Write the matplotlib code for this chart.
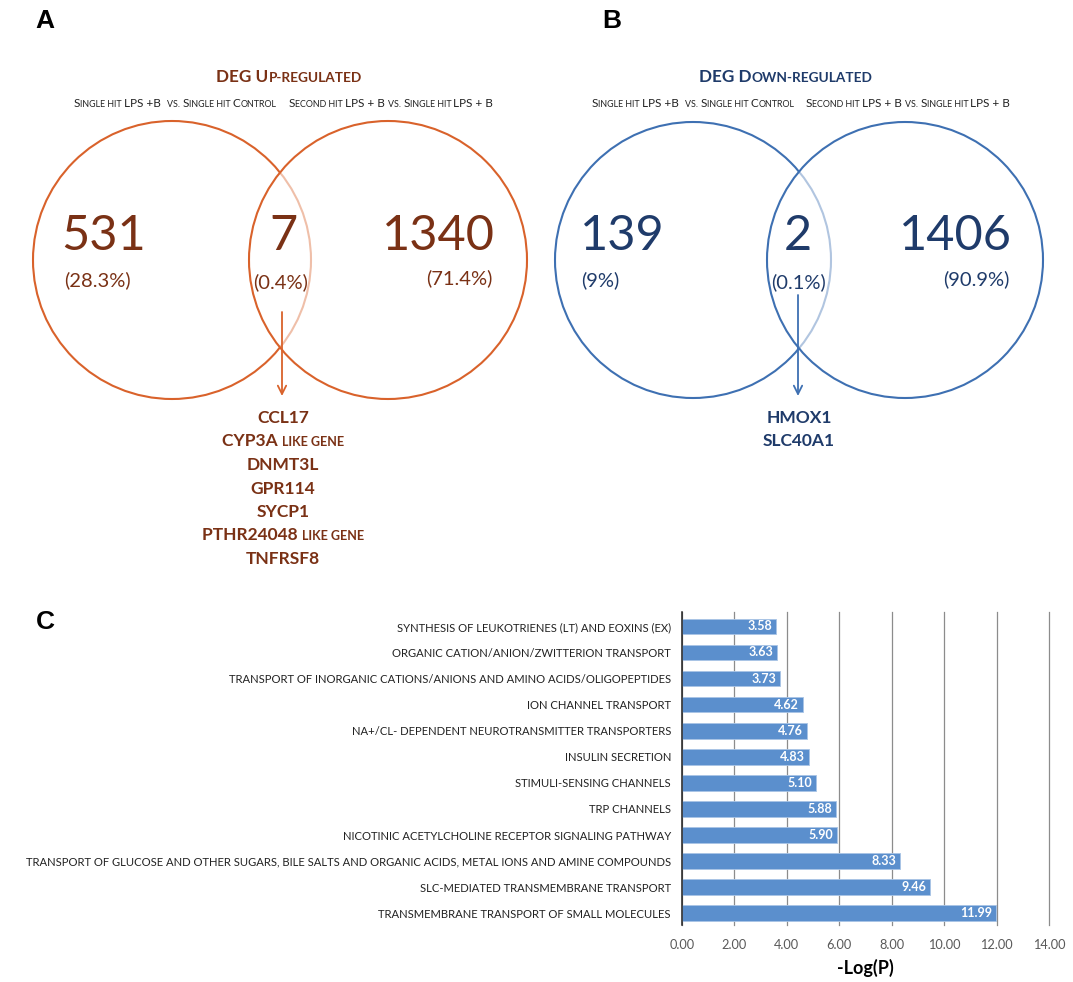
import matplotlib
matplotlib.use("Agg")
import matplotlib.pyplot as plt
from matplotlib import font_manager
from matplotlib.patches import Circle, FancyArrowPatch
from matplotlib.offsetbox import TextArea, HPacker, AnnotationBbox

# ---------------- data ----------------
up_counts = ["531", "7", "1340"]
up_pct = ["(28.3%)", "(0.4%)", "(71.4%)"]
up_genes = ["CCL17", "CYP3A like gene", "DNMT3L", "GPR114", "SYCP1",
            "PTHR24048 like gene", "TNFRSF8"]
down_counts = ["139", "2", "1406"]
down_pct = ["(9%)", "(0.1%)", "(90.9%)"]
down_genes = ["HMOX1", "SLC40A1"]
set_left = "Single hit LPS +B  vs. Single hit Control"
set_right = "Second hit LPS + B vs. Single hit LPS + B"
title_up = "DEG Up-regulated"
title_down = "DEG Down-regulated"

pathways = [
    "SYNTHESIS OF LEUKOTRIENES (LT) AND EOXINS (EX)",
    "ORGANIC CATION/ANION/ZWITTERION TRANSPORT",
    "TRANSPORT OF INORGANIC CATIONS/ANIONS AND AMINO ACIDS/OLIGOPEPTIDES",
    "ION CHANNEL TRANSPORT",
    "NA+/CL- DEPENDENT NEUROTRANSMITTER TRANSPORTERS",
    "INSULIN SECRETION",
    "STIMULI-SENSING CHANNELS",
    "TRP CHANNELS",
    "NICOTINIC ACETYLCHOLINE RECEPTOR SIGNALING PATHWAY",
    "TRANSPORT OF GLUCOSE AND OTHER SUGARS, BILE SALTS AND ORGANIC ACIDS, METAL IONS AND AMINE COMPOUNDS",
    "SLC-MEDIATED TRANSMEMBRANE TRANSPORT",
    "TRANSMEMBRANE TRANSPORT OF SMALL MOLECULES",
]
neglogp = [3.58, 3.63, 3.73, 4.62, 4.76, 4.83, 5.10, 5.88, 5.90, 8.33, 9.46, 11.99]
xticks = [0, 2, 4, 6, 8, 10, 12, 14]

# ---------------- fonts ----------------
avail = {f.name for f in font_manager.fontManager.ttflist}
def pick(*names):
    for n in names:
        if n in avail:
            return n
    return "DejaVu Sans"
MAIN = pick("Lato", "Open Sans", "DejaVu Sans")
NARROW = pick("Liberation Sans Narrow", "Lato", "DejaVu Sans")
LETTER = pick("Liberation Sans", "DejaVu Sans")

W, H = 1073, 982
fig = plt.figure(figsize=(W / 100, H / 100), dpi=100)
ax = fig.add_axes([0, 0, 1, 1])
ax.set_xlim(0, W)
ax.set_ylim(H, 0)
ax.axis("off")

RED_EDGE = "#d9622b"
RED_TXT = "#7a3115"
BLUE_EDGE = "#3e70b2"
BLUE_TXT = "#1f3b6a"


def smallcaps(text, x, y, size, color, weight="normal", ratio=0.78, family=MAIN):
    runs = []
    cur, cur_small = "", None
    for ch in text:
        if ch.isalpha():
            small = ch.islower()
        else:
            small = cur_small if cur_small is not None else False
        if cur_small is None or small == cur_small:
            cur += ch
            cur_small = small
        else:
            runs.append((cur, cur_small))
            cur, cur_small = ch, small
    runs.append((cur, cur_small))
    kids = []
    for r, s in runs:
        kids.append(TextArea(r.upper() if s else r,
                             textprops=dict(size=size * ratio if s else size,
                                            color=color, weight=weight,
                                            family=family)))
    box = HPacker(children=kids, align="baseline", pad=0, sep=0)
    ab = AnnotationBbox(box, (x, y), xycoords="data", frameon=False,
                        box_alignment=(0.5, 0.5), pad=0)
    ax.add_artist(ab)


def venn(cx1, cx2, cy, r, edge, txt, counts, pct, genes, title, tx,
         sub_x, num_pos, pct_pos, arrow_x, arrow_y0, gene_y0):
    c1 = Circle((cx1, cy), r, fill=False, ec=edge, lw=1.5, zorder=2)
    ax.add_patch(c1)
    c2f = Circle((cx2, cy), r, fc="white", ec="none", alpha=0.6, zorder=3)
    ax.add_patch(c2f)
    c2 = Circle((cx2, cy), r, fill=False, ec=edge, lw=1.5, zorder=4)
    ax.add_patch(c2)
    smallcaps(title, tx, 77, 12.3, txt, weight="bold", ratio=0.8)
    smallcaps(set_left, sub_x[0], 103, 8.5, "#222222", ratio=0.75)
    smallcaps(set_right, sub_x[1], 103, 8.5, "#222222", ratio=0.75)
    for c, (px, py) in zip(counts, num_pos):
        ax.text(px, py, c, color=txt, size=35, family=MAIN, ha="center",
                va="center", zorder=5)
    for p, (px, py) in zip(pct, pct_pos):
        ax.text(px, py, p, color=txt, size=14.5, family=MAIN, ha="center",
                va="center", zorder=5)
    arr = FancyArrowPatch((arrow_x, arrow_y0), (arrow_x, 396),
                          arrowstyle="->,head_length=6,head_width=3",
                          color=edge, lw=1.3, zorder=6, shrinkA=0, shrinkB=0)
    ax.add_patch(arr)
    for i, g in enumerate(genes):
        smallcaps(g, arrow_x + 1, gene_y0 + i * 23.5, 12.5, txt,
                  weight="bold", ratio=0.72)


venn(172, 388, 260, 139, RED_EDGE, RED_TXT, up_counts, up_pct, up_genes,
     title_up, 289, (175, 391),
     [(104, 236), (283, 236), (438, 236)],
     [(97, 280), (281, 282), (459, 278)], 282, 312, 418)
venn(693, 905, 260, 138, BLUE_EDGE, BLUE_TXT, down_counts, down_pct,
     down_genes, title_down, 786, (693, 908),
     [(622, 236), (798, 236), (955, 236)],
     [(600, 280), (798, 282), (976, 279)], 798, 295, 418)

for lab, (lx, ly) in zip(["A", "B", "C"], [(45, 21), (612, 21), (45, 622)]):
    ax.text(lx, ly, lab, size=19, weight="bold", family=LETTER,
            ha="center", va="center")

# ---------------- bar chart ----------------
bx = fig.add_axes([682 / W, 1 - 925 / H, (1049 - 682) / W, (925 - 612) / H])
ypos = list(range(len(pathways)))
bars = bx.barh(ypos, neglogp, height=0.6, color="#5b8fcd", ec="#a9c4e6",
               lw=0.6, zorder=3)
bx.set_xlim(0, 14)
bx.set_ylim(len(pathways) - 0.55, -0.55)
bx.set_xticks(xticks)
bx.set_xticklabels([f"{t:.2f}" for t in xticks], size=9.2, color="#595959",
                   family=MAIN)
bx.set_yticks(ypos)
bx.set_yticklabels(pathways, size=8.15, color="#222222", family=NARROW)
bx.tick_params(length=0, pad=8)
bx.tick_params(axis="x", pad=10)
bx.grid(axis="x", color="#8c8c8c", lw=0.9, zorder=0)
for gl in bx.get_xgridlines():
    gl.set_clip_on(False)
for s in ["top", "right", "bottom"]:
    bx.spines[s].set_visible(False)
bx.spines["left"].set_color("#222222")
bx.spines["left"].set_linewidth(1.1)
bx.spines["left"].set_zorder(4)
for yv, v in zip(ypos, neglogp):
    bx.text(v - 0.15, yv, f"{v:.2f}", ha="right", va="center", color="white",
            weight="bold", size=9, family=MAIN, zorder=5)
bx.set_xlabel("-Log(P)", size=13, weight="bold", family=MAIN, labelpad=6)

fig.savefig("out.png", dpi=100)
